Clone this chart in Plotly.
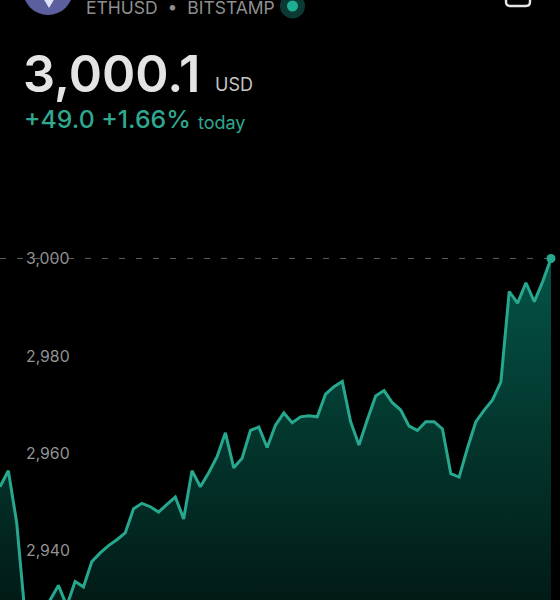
import plotly.graph_objects as go

symbol_label = "ETHUSD  •  BITSTAMP"
price_label = "3,000.1"
currency_label = "USD"
change_label = "+49.0 +1.66%"
today_label = "today"

tick_values = [2940, 2960, 2980, 3000]
tick_labels = ["2,940", "2,960", "2,980", "3,000"]

prices = [
    2953.1, 2956.4, 2945.7, 2926.7, 2925.3, 2927.4, 2929.8, 2932.8, 2928.6, 2933.6,
    2932.5, 2937.7, 2939.5, 2941.0, 2942.2, 2943.6, 2948.6, 2949.7, 2949.0, 2947.9,
    2949.5, 2951.0, 2946.5, 2956.4, 2953.1, 2956.0, 2959.3, 2964.2, 2957.0, 2959.0,
    2964.7, 2965.4, 2961.2, 2965.8, 2968.3, 2966.3, 2967.5, 2967.7, 2967.5, 2972.2,
    2973.7, 2974.8, 2966.5, 2961.7, 2966.9, 2971.8, 2972.9, 2970.4, 2968.9, 2965.6,
    2964.7, 2966.5, 2966.5, 2965.0, 2955.8, 2955.1, 2961.1, 2966.5, 2968.9, 2971.0,
    2974.7, 2993.3, 2990.9, 2995.1, 2991.2, 2995.3, 3000.1,
]
steps = list(range(len(prices)))

W, H = 560, 600
LINE = "#27a88e"
GREEN_TEXT = "#2fa88f"
GREY = "#929292"
FONT = "Inter"


def px(x):
    return x / W


def py(y):
    return 1 - y / H


def label(x, y, text, size, color, weight=400):
    return dict(
        x=px(x), y=py(y), xref="paper", yref="paper", text=text, showarrow=False,
        xanchor="left", yanchor="middle",
        font=dict(family=FONT, size=size, color=color, weight=weight),
    )


fig = go.Figure()
fig.add_trace(go.Scatter(
    x=steps, y=prices, mode="lines", fill="tozeroy",
    line=dict(color=LINE, width=3),
    fillgradient=dict(
        type="vertical", start=3000, stop=2930,
        colorscale=[[0, "#045345"], [1, "#021b17"]],
    ),
    hoverinfo="skip",
))
fig.add_trace(go.Scatter(
    x=[steps[0], steps[-1]], y=[prices[-1], prices[-1]], mode="lines",
    line=dict(color="#5c5c5c", width=1, dash="6px 11px"), hoverinfo="skip",
))
fig.add_trace(go.Scatter(
    x=steps[-1:], y=prices[-1:], mode="markers",
    marker=dict(color=LINE, size=9), hoverinfo="skip",
))

fig.update_layout(
    width=W, height=H, margin=dict(l=0, r=0, t=0, b=0),
    paper_bgcolor="#000000", plot_bgcolor="#000000", showlegend=False,
    xaxis=dict(range=[0, 67.08], visible=False),
    yaxis=dict(
        range=[2929.8, 3053.3], tickvals=tick_values, ticktext=tick_labels,
        showgrid=False, zeroline=False, showline=False, ticks="",
        ticklabelposition="inside", ticklabelstandoff=23,
        tickfont=dict(family=FONT, size=15.8, color=GREY),
    ),
    shapes=[
        dict(type="circle", xref="paper", yref="paper",
             x0=px(23), x1=px(73), y0=py(15), y1=py(-35),
             fillcolor="#5b5f9e", line_width=0),
        dict(type="path", xref="paper", yref="paper",
             path=f"M {px(43)} {py(-2)} L {px(55)} {py(-2)} L {px(49)} {py(8)} Z",
             fillcolor="#dfe1f4", line_width=0),
        dict(type="circle", xref="paper", yref="paper",
             x0=px(280), x1=px(305), y0=py(18.5), y1=py(-6.5),
             fillcolor="#0a3a33", line_width=0),
        dict(type="circle", xref="paper", yref="paper",
             x0=px(287), x1=px(298), y0=py(11.5), y1=py(0.5),
             fillcolor="#1fae94", line_width=0),
        dict(type="path", xref="paper", yref="paper",
             path=f"M {px(506)} {py(-4)} L {px(506)} {py(2)} Q {px(506)} {py(6)} {px(510)} {py(6)} "
                  f"L {px(526)} {py(6)} Q {px(530)} {py(6)} {px(530)} {py(2)} L {px(530)} {py(-4)}",
             line=dict(color="#e6e6e6", width=2.4)),
    ],
    annotations=[
        label(84, 7, symbol_label, 17.5, "#8f8f8f"),
        label(21, 74, price_label, 50.5, "#e4e4e4", 600),
        label(213, 84, currency_label, 18, "#c4c4c4"),
        label(22, 119, change_label, 24.8, GREEN_TEXT, 500),
        label(196, 122, today_label, 18, GREEN_TEXT),
    ],
)

fig.write_html("out.html", config={"displayModeBar": False},
               post_script="document.body.style.margin='0';")
